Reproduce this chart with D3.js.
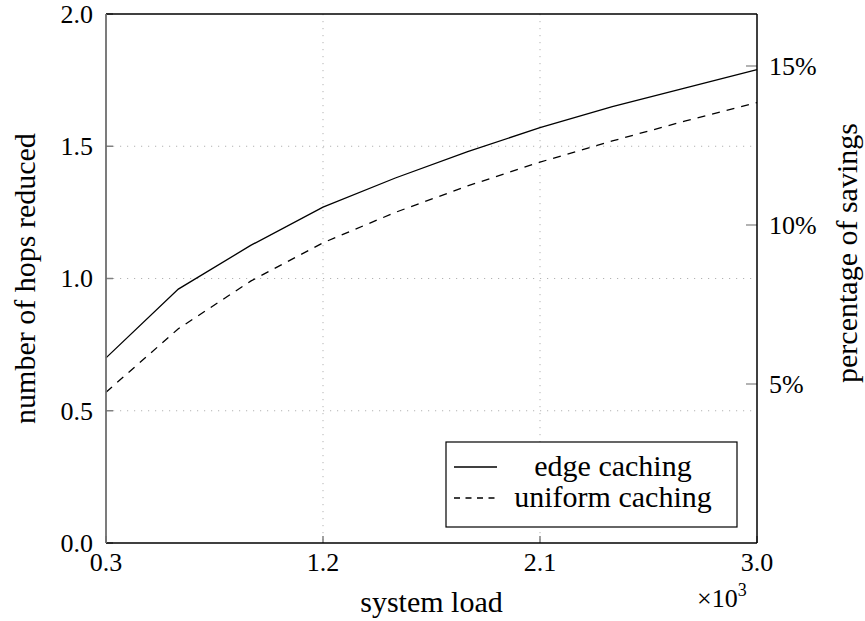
<!DOCTYPE html>
<html>
<head>
<meta charset="utf-8">
<script src="https://cdn.jsdelivr.net/npm/d3@7"></script>
<style>
  body { margin: 0; background: #fff; }
</style>
</head>
<body>
<div id="content"></div>
<script>
// system load (x 10^3)
var loads = [0.3, 0.6, 0.9, 1.2, 1.5, 1.8, 2.1, 2.4, 2.7, 3.0];
// number of hops reduced
var edgeCaching = [0.70, 0.96, 1.125, 1.27, 1.38, 1.48, 1.57, 1.65, 1.72, 1.79];
var uniformCaching = [0.57, 0.81, 0.99, 1.135, 1.25, 1.35, 1.44, 1.52, 1.595, 1.665];

var xTicks = [0.3, 1.2, 2.1, 3.0];
var yTicks = [0.0, 0.5, 1.0, 1.5, 2.0];
var pctTicks = [5, 10, 15];
var seriesNames = ["edge caching", "uniform caching"];

var W = 865, H = 621;
var margin = {top: 14, right: 108, bottom: 78, left: 106};
var width = W - margin.left - margin.right;
var height = H - margin.top - margin.bottom;
var serif = "'Liberation Serif', 'FreeSerif'";

var svg = d3.select("#content").append("svg")
	.attr("width", W).attr("height", H);

var x = d3.scaleLinear().domain([0.3, 3.0]).range([0, width]);
var y = d3.scaleLinear().domain([0, 2]).range([height, 0]);
// right axis: 15% sits 477px above 0 on a 529px axis
var yPct = d3.scaleLinear().domain([0, 16.635]).range([height, 0]);

var g = svg.append("g").attr("transform", "translate(" + margin.left + "," + margin.top + ")");

// grid
var gridColor = "#b3b3b3";
g.selectAll("line.hgrid").data(yTicks.filter(function (d) { return d > 0 && d < 2; }))
	.enter().append("line").attr("class", "hgrid")
	.attr("x1", 0).attr("x2", width)
	.attr("y1", function (d) { return y(d); }).attr("y2", function (d) { return y(d); })
	.style("stroke", gridColor).style("stroke-width", 1).style("stroke-dasharray", "1.2,5.8");
g.selectAll("line.vgrid").data(xTicks.filter(function (d) { return d > 0.3 && d < 3.0; }))
	.enter().append("line").attr("class", "vgrid")
	.attr("y1", 0).attr("y2", height)
	.attr("x1", function (d) { return x(d); }).attr("x2", function (d) { return x(d); })
	.style("stroke", gridColor).style("stroke-width", 1).style("stroke-dasharray", "1.2,5.8");

// tick marks (inward, gray)
var tickColor = "#808080";
g.selectAll("line.ytick").data(yTicks).enter().append("line")
	.attr("x1", 0).attr("x2", 7)
	.attr("y1", function (d) { return y(d); }).attr("y2", function (d) { return y(d); })
	.style("stroke", tickColor).style("stroke-width", 1.5);
g.selectAll("line.xtick").data(xTicks).enter().append("line")
	.attr("y1", height).attr("y2", height - 7)
	.attr("x1", function (d) { return x(d); }).attr("x2", function (d) { return x(d); })
	.style("stroke", tickColor).style("stroke-width", 1.5);
g.selectAll("line.ptick").data(pctTicks).enter().append("line")
	.attr("x1", width - 11).attr("x2", width)
	.attr("y1", function (d) { return yPct(d); }).attr("y2", function (d) { return yPct(d); })
	.style("stroke", tickColor).style("stroke-width", 1.2);

// curves
var line = d3.line()
	.x(function (d, i) { return x(loads[i]); })
	.y(function (d) { return y(d); });

g.append("path").datum(edgeCaching).attr("d", line)
	.style("fill", "none").style("stroke", "#000").style("stroke-width", 1.3);
g.append("path").datum(uniformCaching).attr("d", line)
	.style("fill", "none").style("stroke", "#000").style("stroke-width", 1.3)
	.style("stroke-dasharray", "8,7");

// frame
g.append("line").attr("x1", 0).attr("x2", width).attr("y1", 0).attr("y2", 0)
	.style("stroke", "#000").style("stroke-width", 1.5);
g.append("line").attr("x1", 0).attr("x2", width).attr("y1", height).attr("y2", height)
	.style("stroke", "#000").style("stroke-width", 1.5);
g.append("line").attr("x1", width).attr("x2", width).attr("y1", 0).attr("y2", height)
	.style("stroke", "#000").style("stroke-width", 1.5);
g.append("line").attr("x1", 0).attr("x2", 0).attr("y1", 0).attr("y2", height)
	.style("stroke", "#6e6e6e").style("stroke-width", 1.8);

// tick labels
g.selectAll("text.ylab").data(yTicks).enter().append("text")
	.attr("x", -13).attr("y", function (d) { return y(d); })
	.attr("dy", "0.34em").attr("text-anchor", "end")
	.style("font-family", serif).style("font-size", "26px")
	.text(d3.format(".1f"));
g.selectAll("text.xlab").data(xTicks).enter().append("text")
	.attr("x", function (d) { return x(d); }).attr("y", height + 28)
	.attr("text-anchor", "middle")
	.style("font-family", serif).style("font-size", "26px")
	.text(d3.format(".1f"));
g.selectAll("text.plab").data(pctTicks).enter().append("text")
	.attr("x", width + 12).attr("y", function (d) { return yPct(d); })
	.attr("dy", "0.34em").attr("text-anchor", "start")
	.style("font-family", serif).style("font-size", "26px")
	.text(function (d) { return d + "%"; });

// x10^3
var mult = g.append("text").attr("x", width - 60).attr("y", height + 64)
	.style("font-family", serif).style("font-size", "26px");
mult.append("tspan").text("\u00d710");
mult.append("tspan").attr("dy", -11).style("font-size", "18px").text("3");

// axis labels
svg.append("text").attr("x", margin.left + width / 2).attr("y", 612)
	.attr("text-anchor", "middle")
	.style("font-family", serif).style("font-size", "30px").text("system load");
svg.append("text").attr("transform", "translate(35," + (margin.top + height / 2) + ") rotate(-90)")
	.attr("text-anchor", "middle")
	.style("font-family", serif).style("font-size", "30px").text("number of hops reduced");
svg.append("text").attr("transform", "translate(857,253) rotate(-90)")
	.attr("text-anchor", "middle")
	.style("font-family", serif).style("font-size", "30px").text("percentage of savings");

// legend
var lg = svg.append("g").attr("transform", "translate(446,442)");
lg.append("rect").attr("width", 291).attr("height", 85)
	.style("fill", "#fff").style("stroke", "#000").style("stroke-width", 1.2);
var legendRows = lg.selectAll("g.row").data(seriesNames).enter().append("g")
	.attr("transform", function (d, i) { return "translate(0," + (25 + i * 31) + ")"; });
legendRows.append("line").attr("x1", 8).attr("x2", 51).attr("y1", 0).attr("y2", 0)
	.style("stroke", "#000").style("stroke-width", 1.3)
	.style("stroke-dasharray", function (d, i) { return i ? "6,5.5" : null; });
legendRows.append("text").attr("x", 167).attr("y", 0).attr("dy", "0.3em")
	.attr("text-anchor", "middle")
	.style("font-family", serif).style("font-size", "30px")
	.text(function (d) { return d; });
</script>
</body>
</html>
